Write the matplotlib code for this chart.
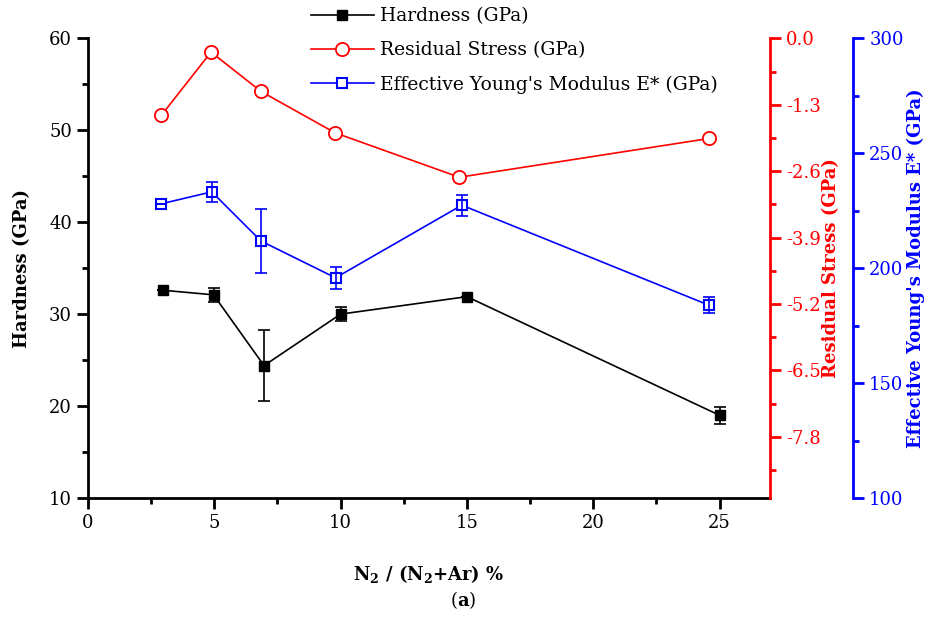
import numpy as np
import matplotlib
matplotlib.use('Agg')
import matplotlib.pyplot as plt
from matplotlib.ticker import MultipleLocator, FormatStrFormatter

plt.rcParams['font.family'] = ['DejaVu Serif']
plt.rcParams['mathtext.fontset'] = 'dejavuserif'

# hardness (left axis)
x_h = [2.96, 4.97, 6.97, 10.0, 15.0, 25.0]
hardness = [32.6, 32.1, 24.4, 30.0, 31.9, 19.0]
hardness_err = [0.0, 0.75, 3.85, 0.75, 0.0, 0.9]

# residual stress (red axis)
x_s = [2.9, 4.87, 6.85, 9.78, 14.7, 24.6]
stress = [-1.51, -0.27, -1.04, -1.85, -2.72, -1.96]

# effective Young's modulus (blue axis)
x_e = [2.9, 4.9, 6.85, 9.8, 14.8, 24.6]
modulus = [228.0, 233.2, 211.8, 195.8, 227.4, 183.8]
modulus_err = [0.0, 4.5, 13.9, 4.9, 4.5, 3.5]

stress_ticks = [0.0, -1.3, -2.6, -3.9, -5.2, -6.5, -7.8]

fig = plt.figure(figsize=(9.3, 6.28), dpi=100)
ax = fig.add_axes([0.0946, 0.207, 0.7334, 0.732])
ax2 = ax.twinx()
ax3 = ax.twinx()

lw = 1.2
l1, = ax.plot(x_h, hardness, color='black', lw=lw, marker='s', ms=7.5,
              mfc='black', mec='black', label='Hardness (GPa)')
ax.errorbar(x_h, hardness, yerr=hardness_err, fmt='none', ecolor='black',
            elinewidth=lw, capsize=4, capthick=lw)

l2, = ax2.plot(x_s, stress, color='red', lw=lw, marker='o', ms=9.5,
               mfc='white', mec='red', mew=1.3, label='Residual Stress (GPa)')

l3, = ax3.plot(x_e, modulus, color='blue', lw=lw, marker='s', ms=7.5,
               mfc='white', mec='blue', mew=1.5,
               label="Effective Young's Modulus E* (GPa)")
ax3.errorbar(x_e, modulus, yerr=modulus_err, fmt='none', ecolor='blue',
             elinewidth=lw, capsize=4, capthick=lw)

# main axis
ax.set_xlim(0, 27)
ax.set_ylim(10, 60)
ax.xaxis.set_major_locator(MultipleLocator(5))
ax.xaxis.set_minor_locator(MultipleLocator(2.5))
ax.yaxis.set_major_locator(MultipleLocator(10))
ax.yaxis.set_minor_locator(MultipleLocator(5))
for s in ['top', 'right']:
    ax.spines[s].set_visible(False)
for s in ['left', 'bottom']:
    ax.spines[s].set_linewidth(2)
ax.tick_params(which='major', direction='out', length=8, width=2, labelsize=13)
ax.tick_params(which='minor', direction='out', length=4, width=2)
ax.set_ylabel('Hardness (GPa)', fontsize=13, fontweight='bold', labelpad=13)
ax.set_xlabel(r'N$_\mathbf{2}$ / (N$_\mathbf{2}$+Ar) %', fontsize=13,
              fontweight='bold', labelpad=22)

# red axis
ax2.set_ylim(-9.0, 0.0)
ax2.set_yticks(stress_ticks)
ax2.yaxis.set_major_formatter(FormatStrFormatter('%.1f'))
ax2.yaxis.set_minor_locator(MultipleLocator(0.65))
for s in ['top', 'left', 'bottom']:
    ax2.spines[s].set_visible(False)
ax2.spines['right'].set_color('red')
ax2.spines['right'].set_linewidth(2)
ax2.tick_params(which='major', direction='out', length=8, width=2,
                colors='red', labelsize=13)
ax2.tick_params(which='minor', direction='out', length=4, width=2, colors='red')
ax2.set_ylabel('Residual Stress (GPa)', color='red', fontsize=13,
               fontweight='bold', labelpad=1)

# blue axis
ax3.spines['right'].set_position(('axes', 1.122))
ax3.set_ylim(100, 300)
ax3.yaxis.set_major_locator(MultipleLocator(50))
ax3.yaxis.set_minor_locator(MultipleLocator(25))
for s in ['top', 'left', 'bottom']:
    ax3.spines[s].set_visible(False)
ax3.spines['right'].set_color('blue')
ax3.spines['right'].set_linewidth(2)
ax3.tick_params(which='major', direction='out', length=8, width=2,
                colors='blue', labelsize=13)
ax3.tick_params(which='minor', direction='out', length=4, width=2, colors='blue')
ax3.set_ylabel("Effective Young's Modulus E* (GPa)", color='blue', fontsize=13,
               fontweight='bold', labelpad=2)

fig.legend(handles=[l1, l2, l3], loc='upper left', bbox_to_anchor=(0.334, 0.988),
           frameon=False, fontsize=13.5, handlelength=3.4, handletextpad=0.3,
           labelspacing=0.85, borderpad=0, borderaxespad=0)

fig.text(0.498, 0.045, r'($\mathbf{a}$)', ha='center', va='center', fontsize=13)

fig.savefig('out.png', dpi=100)
